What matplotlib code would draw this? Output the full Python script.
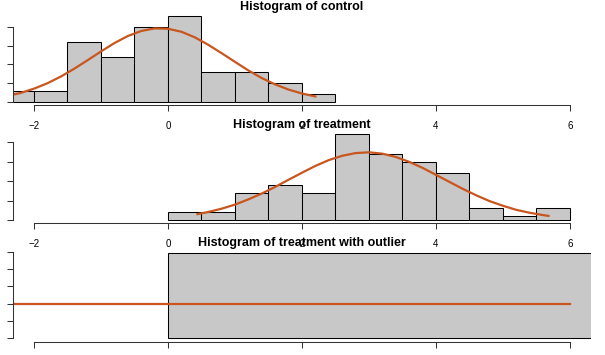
import matplotlib
matplotlib.use('Agg')
import matplotlib.pyplot as plt

plt.rcParams['font.family'] = ['Liberation Sans', 'DejaVu Sans']

# histogram of control: bin left edges (width 0.5) and densities
ctrl_bins = [-2.5, -2.0, -1.5, -1.0, -0.5, 0.0, 0.5, 1.0, 1.5, 2.0]
ctrl_density = [0.06, 0.06, 0.32, 0.24, 0.40, 0.46, 0.16, 0.16, 0.10, 0.04]
# fitted normal curve
ctrl_curve_x = [-2.4, -2.2, -2.0, -1.8, -1.6, -1.4, -1.2, -1.0, -0.8, -0.6, -0.4, -0.2,
                0.0, 0.2, 0.4, 0.6, 0.8, 1.0, 1.2, 1.4, 1.6, 1.8, 2.0, 2.2]
ctrl_curve_y = [0.031, 0.047, 0.070, 0.099, 0.135, 0.177, 0.223, 0.270, 0.315, 0.353,
                0.380, 0.394, 0.392, 0.376, 0.346, 0.306, 0.261, 0.214, 0.168, 0.127,
                0.093, 0.065, 0.044, 0.028]

# histogram of treatment
trt_bins = [0.0, 0.5, 1.0, 1.5, 2.0, 2.5, 3.0, 3.5, 4.0, 4.5, 5.0, 5.5]
trt_density = [0.04, 0.04, 0.14, 0.18, 0.14, 0.44, 0.34, 0.30, 0.24, 0.06, 0.02, 0.06]
trt_curve_x = [0.44, 0.6, 0.8, 1.0, 1.2, 1.4, 1.6, 1.8, 2.0, 2.2, 2.4, 2.6, 2.8, 3.0,
               3.2, 3.4, 3.6, 3.8, 4.0, 4.2, 4.4, 4.6, 4.8, 5.0, 5.2, 5.4, 5.6, 5.68]
trt_curve_y = [0.030, 0.041, 0.058, 0.079, 0.106, 0.136, 0.170, 0.207, 0.243, 0.278,
               0.308, 0.330, 0.344, 0.348, 0.341, 0.324, 0.299, 0.268, 0.232, 0.196,
               0.160, 0.127, 0.097, 0.073, 0.052, 0.037, 0.025, 0.021]

# histogram of treatment with outlier (one wide bin, flat normal curve)
out_bins = [0.0]
out_width = [20.0]
out_density = [0.0099]
out_curve_x = [-2.4, 6.0]
out_curve_y = [0.004, 0.004]

panels = [
    ('Histogram of control', ctrl_bins, [0.5] * len(ctrl_bins), ctrl_density,
     ctrl_curve_x, ctrl_curve_y, [0, 0.1, 0.2, 0.3, 0.4]),
    ('Histogram of treatment', trt_bins, [0.5] * len(trt_bins), trt_density,
     trt_curve_x, trt_curve_y, [0, 0.1, 0.2, 0.3, 0.4]),
    ('Histogram of treatment with outlier', out_bins, out_width, out_density,
     out_curve_x, out_curve_y, [0, 0.002, 0.004, 0.006, 0.008, 0.010]),
]

W, H = 605, 355
fig = plt.figure(figsize=(W / 100, H / 100), dpi=100)

xlo, xhi = -2.32, 6.32
left_px, right_px = 12.56, 591.4
plot_h = 92.4
bar_col = '#C8C8C8'
line_col = '#C8561E'
axis_col = '#333333'

for i, (title, bins, widths, dens, cx, cy, yticks) in enumerate(panels):
    top_px = 12.7 + 118.3 * i
    ax = fig.add_axes([left_px / W, 1 - (top_px + plot_h) / H,
                       (right_px - left_px) / W, plot_h / H])
    ax.bar(bins, dens, width=widths, align='edge', color=bar_col,
           edgecolor='black', linewidth=0.75)
    ax.plot(cx, cy, color=line_col, lw=1.6)

    ymax = max(dens)
    ax.set_xlim(xlo, xhi)
    ax.set_ylim(-0.04 * ymax, 1.04 * ymax)

    for s in ['top', 'right']:
        ax.spines[s].set_visible(False)
    ax.spines['left'].set_bounds(yticks[0], yticks[-1])
    ax.spines['bottom'].set_bounds(-2, 6)
    for s in ['left', 'bottom']:
        ax.spines[s].set_color(axis_col)
        ax.spines[s].set_linewidth(0.75)

    ax.set_xticks([-2, 0, 2, 4, 6])
    ax.set_yticks(yticks)
    ax.tick_params(axis='both', direction='out', length=4.5, width=0.75,
                   color=axis_col, labelsize=7, pad=7)
    ax.tick_params(axis='y', labelleft=False)
    ax.set_title(title, fontsize=9, fontweight='bold', pad=1)

fig.savefig('out.png', dpi=100)
